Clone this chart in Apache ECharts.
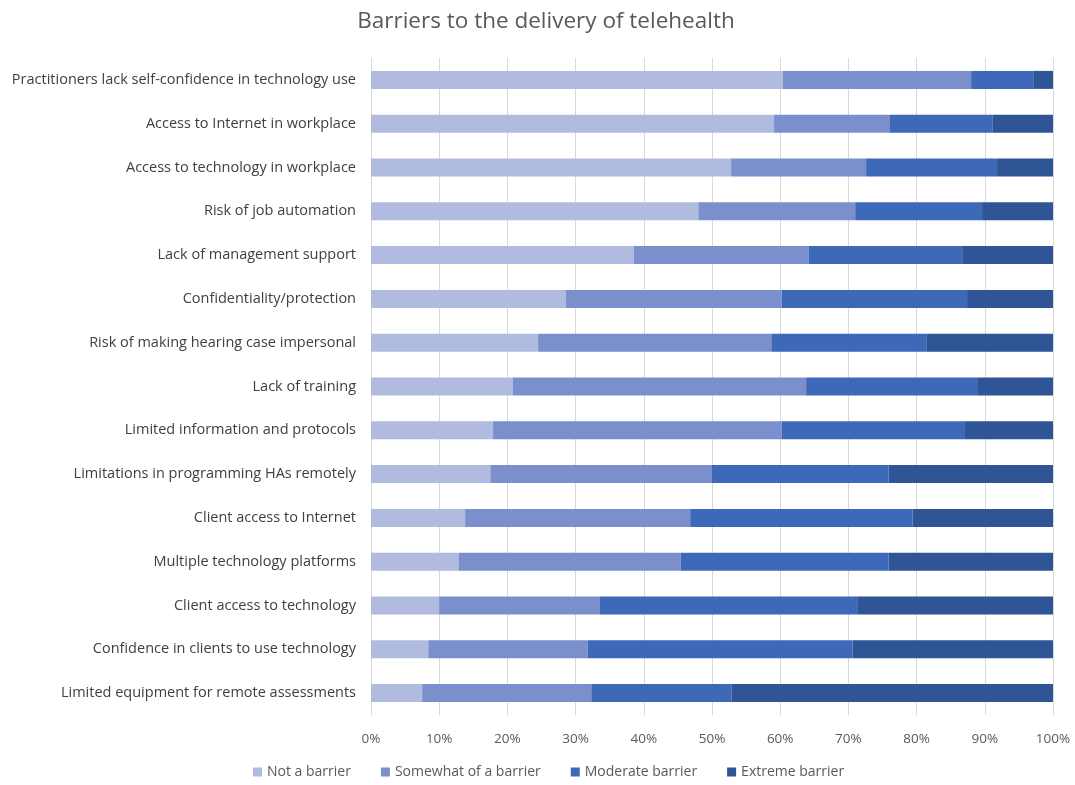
<!DOCTYPE html>
<html>
<head>
<meta charset="utf-8">
<script src="https://cdn.jsdelivr.net/npm/echarts@6/dist/echarts.min.js"></script>
<style>html,body{margin:0;padding:0;background:#fff}#c{width:1075px;height:785px}</style>
</head>
<body>
<div id="c"></div>
<script>
const categories = [
  "Practitioners lack self-confidence in technology use",
  "Access to Internet in workplace",
  "Access to technology in workplace",
  "Risk of job automation",
  "Lack of management support",
  "Confidentiality/protection",
  "Risk of making hearing case impersonal",
  "Lack of training",
  "Limited information and protocols",
  "Limitations in programming HAs remotely",
  "Client access to Internet",
  "Multiple technology platforms",
  "Client access to technology",
  "Confidence in clients to use technology",
  "Limited equipment for remote assessments"
];
const seriesNames = ["Not a barrier", "Somewhat of a barrier", "Moderate barrier", "Extreme barrier"];
const notABarrier = [60.4, 59.1, 52.8, 48.0, 38.5, 28.6, 24.5, 20.8, 17.9, 17.5, 13.8, 12.9, 10.0, 8.4, 7.5];
const somewhat    = [27.6, 17.0, 19.8, 23.0, 25.7, 31.6, 34.2, 43.0, 42.3, 32.5, 33.0, 32.5, 23.5, 23.4, 24.8];
const moderate    = [9.1, 15.0, 19.2, 18.6, 22.6, 27.2, 22.8, 25.2, 26.9, 25.9, 32.6, 30.5, 37.9, 38.8, 20.6];
const extreme     = [2.9, 8.9, 8.2, 10.4, 13.2, 12.6, 18.5, 11.0, 12.9, 24.1, 20.6, 24.1, 28.6, 29.4, 47.1];
const colors = ["#B1BBDF", "#7A8FCC", "#3E68B8", "#2F5597"];
const title = "Barriers to the delivery of telehealth";

const font = "Open Sans";
const chart = echarts.init(document.getElementById('c'));
const dataSets = [notABarrier, somewhat, moderate, extreme];
chart.setOption({
  backgroundColor: '#fff',
  animation: false,
  title: {
    text: title, left: 541, textAlign: 'center', top: 5,
    textStyle: { fontFamily: font, fontSize: 22.5, fontWeight: 'normal', color: '#595959' }
  },
  legend: {
    data: seriesNames, bottom: 1, left: 248, icon: 'rect',
    itemWidth: 9, itemHeight: 9, itemGap: 30,
    textStyle: { fontFamily: font, fontSize: 14, color: '#595959' }
  },
  grid: { left: 371, right: 22, top: 58, bottom: 70, containLabel: false },
  xAxis: {
    type: 'value', min: 0, max: 100, interval: 10,
    axisLabel: { formatter: '{value}%', fontFamily: font, fontSize: 13.5, color: '#595959', margin: 17 },
    splitLine: { show: true, lineStyle: { color: '#D9D9D9', width: 1 } },
    axisLine: { show: false }, axisTick: { show: false }
  },
  yAxis: {
    type: 'category', data: categories, inverse: true,
    axisLabel: { fontFamily: font, fontSize: 14.5, color: '#404040', margin: 15 },
    axisLine: { show: false }, axisTick: { show: false }
  },
  series: seriesNames.map((n, i) => ({
    name: n, type: 'bar', stack: 'total', data: dataSets[i],
    barWidth: 18, itemStyle: { color: colors[i] }
  }))
});
</script>
</body>
</html>
